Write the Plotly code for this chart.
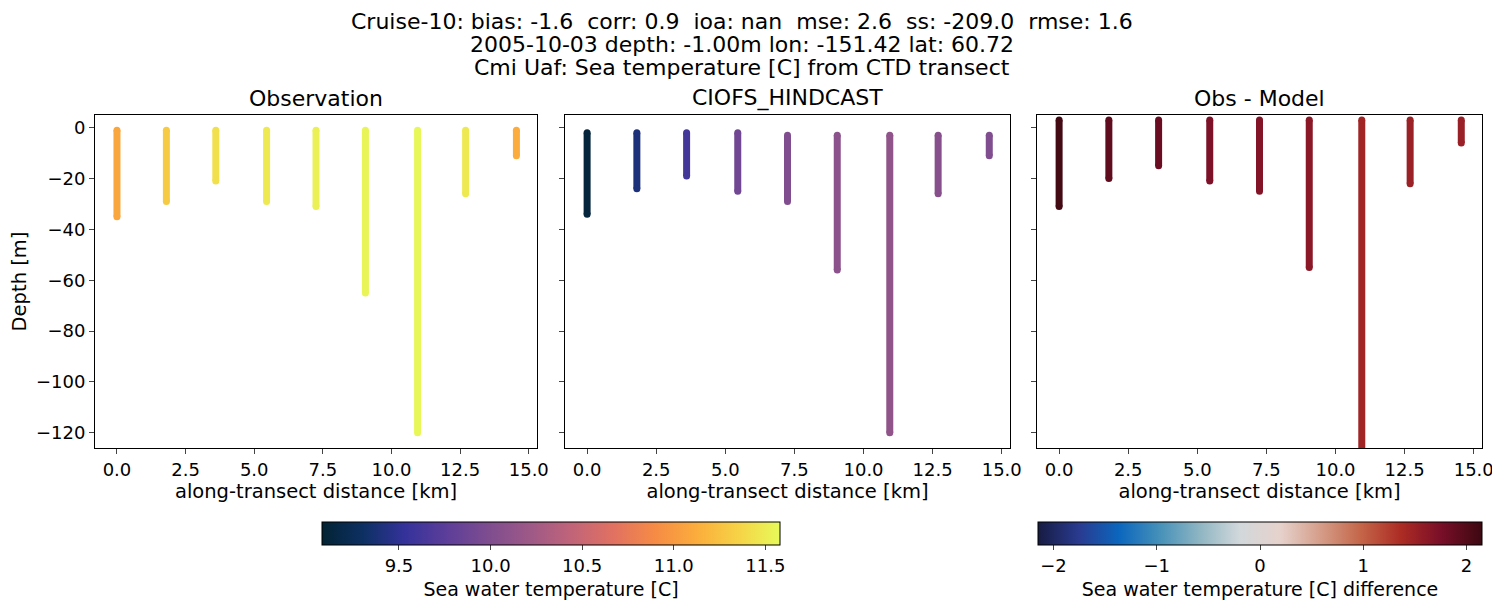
import plotly.graph_objects as go
from plotly.colors import sample_colorscale
import plotly.express as px

dist = [0.0, 1.8, 3.6, 5.45, 7.25, 9.05, 10.95, 12.7, 14.55]
obs_top = [-1, -1, -1, -1, -1, -1, -1, -1, -1]
obs_bot = [-35, -29, -21, -29, -31, -65, -120, -26, -11]
obs_val = [11.08, 11.3, 11.42, 11.48, 11.52, 11.55, 11.56, 11.48, 11.12]
mod_top = [-2, -2, -2, -2, -3, -3, -3, -3, -3]
mod_bot = [-34, -24, -19, -25, -29, -56, -120, -26, -11]
mod_val = [9.12, 9.4, 9.62, 9.9, 10.0, 10.08, 10.12, 10.05, 10.0]
dif_top = [3, 3, 3, 3, 3, 3, 3, 3, 3]
dif_bot = [-31, -20, -15, -21, -25, -55, -130, -22, -6]
dif_val = [2.1, 1.92, 1.85, 1.72, 1.68, 1.62, 1.45, 1.5, 1.52]
title_lines = ["Cruise-10: bias: -1.6  corr: 0.9  ioa: nan  mse: 2.6  ss: -209.0  rmse: 1.6",
               "2005-10-03 depth: -1.00m lon: -151.42 lat: 60.72",
               "Cmi Uaf: Sea temperature [C] from CTD transect"]

tmin, tmax = 9.08, 11.58
dmin, dmax = -2.15, 2.15
thermal = px.colors.sequential.thermal
balance = px.colors.diverging.balance

# page body has an 8px offset; compensate
ox, oy = 8, 8
W, H = 1500, 600
def px_x(p): return (p - ox) / W
def px_y(p): return 1 - (p - oy) / H

fig = go.Figure()
doms = [(px_x(95), px_x(537)), (px_x(565), px_x(1010)), (px_x(1037), px_x(1482))]
ydom = [px_y(448), px_y(115)]
sets = [(obs_top, obs_bot, obs_val, thermal, tmin, tmax),
        (mod_top, mod_bot, mod_val, thermal, tmin, tmax),
        (dif_top, dif_bot, dif_val, balance, dmin, dmax)]
for i, (tops, bots, vals, cs, lo, hi) in enumerate(sets):
    xa = "x" if i == 0 else f"x{i+1}"
    ya = "y" if i == 0 else f"y{i+1}"
    for d, t, b, v in zip(dist, tops, bots, vals):
        c = sample_colorscale(cs, [min(max((v - lo) / (hi - lo), 0), 1)])[0]
        fig.add_trace(go.Scatter(x=[d, d], y=[t, b], mode="lines+markers", xaxis=xa, yaxis=ya,
                                 line=dict(color=c, width=7), marker=dict(color=c, size=7),
                                 showlegend=False, hoverinfo="skip"))

cbtop = px_y(522)
fig.add_trace(go.Scatter(x=[None], y=[None], mode="markers", showlegend=False,
    marker=dict(color=[tmin], colorscale=thermal, cmin=tmin, cmax=tmax, showscale=True,
        colorbar=dict(orientation="h", x=px_x(322), xanchor="left", y=cbtop, yanchor="top",
            len=458 / W, lenmode="fraction", thickness=23, xpad=0, ypad=0,
            outlinewidth=1, outlinecolor="black",
            tickvals=[9.5, 10.0, 10.5, 11.0, 11.5], ticktext=["9.5", "10.0", "10.5", "11.0", "11.5"],
            ticks="outside", tickfont=dict(size=18),
            title=dict(text="Sea water temperature [C]", side="bottom", font=dict(size=19))))))
fig.add_trace(go.Scatter(x=[None], y=[None], mode="markers", showlegend=False, xaxis="x3", yaxis="y3",
    marker=dict(color=[0], colorscale=balance, cmin=dmin, cmax=dmax, showscale=True,
        colorbar=dict(orientation="h", x=px_x(1038), xanchor="left", y=cbtop, yanchor="top",
            len=444 / W, lenmode="fraction", thickness=23, xpad=0, ypad=0,
            outlinewidth=1, outlinecolor="black",
            tickvals=[-2, -1, 0, 1, 2], ticktext=["\u22122", "\u22121", "0", "1", "2"],
            ticks="outside", tickfont=dict(size=18),
            title=dict(text="Sea water temperature [C] difference", side="bottom", font=dict(size=19))))))

axcommon = dict(showgrid=False, zeroline=False, showline=True, linecolor="black", mirror=True,
                ticks="outside", tickfont=dict(size=18), ticklen=5)
for i, (a, b) in enumerate(doms):
    sfx = "" if i == 0 else str(i + 1)
    fig.layout["xaxis" + sfx] = dict(axcommon, domain=[a, b], range=[-0.8, 15.3], anchor="y" + sfx,
        tickvals=[0, 2.5, 5, 7.5, 10, 12.5, 15],
        ticktext=["0.0", "2.5", "5.0", "7.5", "10.0", "12.5", "15.0"],
        title=dict(text="along-transect distance [km]", font=dict(size=19.5), standoff=4))
    fig.layout["yaxis" + sfx] = dict(axcommon, domain=ydom, range=[-126, 5], anchor="x" + sfx,
        tickvals=[0, -20, -40, -60, -80, -100, -120],
        ticktext=["0", "\u221220", "\u221240", "\u221260", "\u221280", "\u2212100", "\u2212120"],
        showticklabels=(i == 0),
        title=dict(text="Depth [m]" if i == 0 else "", font=dict(size=19.5), standoff=8))

ann = []
for (a, b), t in zip(doms, ["Observation", "CIOFS_HINDCAST", "Obs - Model"]):
    ann.append(dict(text=t, x=(a + b) / 2, y=ydom[1] + 0.004, xref="paper", yref="paper",
                    xanchor="center", yanchor="bottom", showarrow=False, font=dict(size=22)))
for line, yc in zip(title_lines, [22, 45, 68]):
    ann.append(dict(text=line, x=px_x(742), y=px_y(yc), xref="paper", yref="paper",
                    xanchor="center", yanchor="middle", showarrow=False, font=dict(size=22)))
fig.update_layout(width=W, height=H, margin=dict(l=0, r=0, t=0, b=0, autoexpand=False),
                  paper_bgcolor="white", plot_bgcolor="white",
                  font=dict(family="DejaVu Sans", color="black"), annotations=ann)
fig.write_html("out.html")
